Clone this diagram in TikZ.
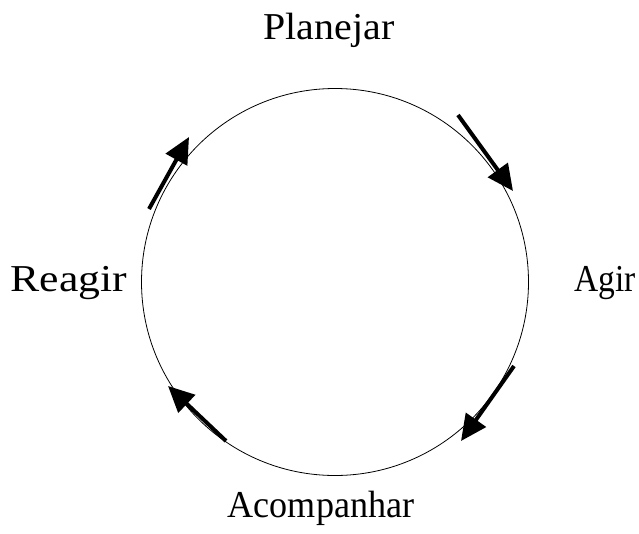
\documentclass[tikz,border=0pt]{standalone}
\usepackage{fontspec}
\setmainfont{Liberation Serif}
\usetikzlibrary{arrows.meta}
\begin{document}
\begin{tikzpicture}[x=1pt,y=-1pt,
  lbl/.style={font=\fontsize{38}{44}\selectfont, inner sep=0pt},
  cyc/.style={line width=4pt, -{Triangle[length=26pt,width=24pt]}}]
\useasboundingbox (0,0) rectangle (639,533);
\node[draw, circle, minimum size=387pt, inner sep=0pt, line width=0.8pt] (c) at (335,282) {};
\node[lbl] (plan) at (329,30) {\scalebox{1.05}[1]{Planejar}};
\node[lbl] (agir) at (605,283) {\scalebox{0.88}[1]{Agir}};
\node[lbl] (reag) at (69,283) {\scalebox{1.15}[1]{Reagir}};
\node[lbl] (acom) at (321,508) {\scalebox{0.95}[1]{Acompanhar}};
\coordinate (a1s) at (458,115); \coordinate (a1e) at (513,191);
\coordinate (a2s) at (514,366); \coordinate (a2e) at (461,441);
\coordinate (a3s) at (226,441); \coordinate (a3e) at (168,386);
\coordinate (a4s) at (149,209); \coordinate (a4e) at (189,137);
\draw[cyc] (a1s) -- (a1e);
\draw[cyc] (a2s) -- (a2e);
\draw[cyc] (a3s) -- (a3e);
\draw[cyc] (a4s) -- (a4e);
\end{tikzpicture}
\end{document}
